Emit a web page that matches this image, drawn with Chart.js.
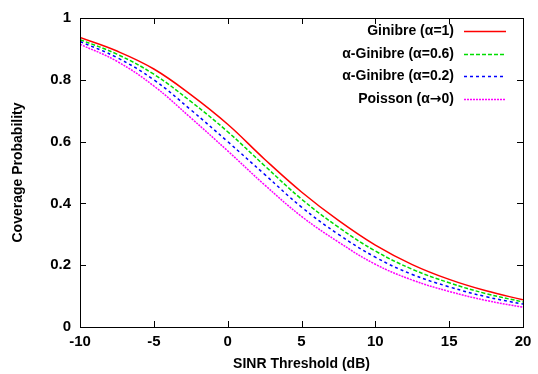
<!DOCTYPE html>
<html>
<head>
<meta charset="utf-8">
<script src="https://cdn.jsdelivr.net/npm/chart.js@4/dist/chart.umd.min.js"></script>
<style>
  html, body { margin: 0; padding: 0; background: #fff; }
  #wrap { width: 538px; height: 374px; }
</style>
</head>
<body>
<div id="wrap"><canvas id="coverageChart"></canvas></div>
<script>
const sinrDb = [-10, -7.5, -5, -2.5, 0, 2.5, 5, 7.5, 10, 12.5, 15, 17.5, 20];
const ginibre = [0.937, 0.893, 0.835, 0.752, 0.656, 0.543, 0.437, 0.345, 0.265, 0.202, 0.154, 0.117, 0.088];
const alpha06 = [0.930, 0.883, 0.818, 0.730, 0.632, 0.522, 0.414, 0.323, 0.246, 0.187, 0.143, 0.108, 0.081];
const alpha02 = [0.924, 0.872, 0.800, 0.703, 0.600, 0.494, 0.388, 0.300, 0.226, 0.170, 0.130, 0.098, 0.074];
const poisson = [0.915, 0.860, 0.780, 0.677, 0.570, 0.460, 0.358, 0.275, 0.203, 0.152, 0.115, 0.086, 0.064];

const seriesNames = ['Ginibre (\u03B1=1)', '\u03B1-Ginibre (\u03B1=0.6)', '\u03B1-Ginibre (\u03B1=0.2)', 'Poisson (\u03B1\u21920)'];
const seriesColors = ['#ff0000', '#00dd00', '#0000ff', '#ff00ff'];
const seriesDash = [[], [4, 2], [3, 3], [2, 1]];
const xTicks = [-10, -5, 0, 5, 10, 15, 20];
const yTicks = [0, 0.2, 0.4, 0.6, 0.8, 1];

const font = 'Liberation Sans, Arial, sans-serif';
const allSeries = [ginibre, alpha06, alpha02, poisson];

const datasets = allSeries.map((vals, i) => ({
  label: seriesNames[i],
  data: sinrDb.map((x, j) => ({ x: x, y: vals[j] })),
  borderColor: seriesColors[i],
  borderDash: seriesDash[i],
  borderWidth: 1.5,
  pointRadius: 0,
  showLine: true,
  fill: false,
  tension: 0.4,
}));

// draws a legend label right-aligned, with the arrow glyph taken from DejaVu
function drawLabel(ctx, text, right, y) {
  const parts = text.split(/(\u2192)/).filter((p) => p.length);
  const fonts = parts.map((p) => (p === '\u2192' ? 'bold 14px DejaVu Sans' : 'bold 14px ' + font));
  const widths = parts.map((p, k) => { ctx.font = fonts[k]; return ctx.measureText(p).width; });
  let x = right - widths.reduce((a, b) => a + b, 0);
  ctx.textAlign = 'left';
  parts.forEach((p, k) => {
    ctx.font = fonts[k];
    ctx.fillText(p, x, y);
    x += widths[k];
  });
}

// gnuplot style frame with inward ticks + legend inside the plot
const framePlugin = {
  id: 'frame',
  afterDatasetsDraw(chart) {
    const { ctx, chartArea: a, scales } = chart;
    ctx.save();
    ctx.strokeStyle = '#000';
    ctx.lineWidth = 1;
    ctx.strokeRect(a.left + 0.5, a.top + 0.5, a.right - a.left, a.bottom - a.top);
    ctx.beginPath();
    xTicks.forEach((v) => {
      const px = Math.round(scales.x.getPixelForValue(v)) + 0.5;
      ctx.moveTo(px, a.bottom); ctx.lineTo(px, a.bottom - 6);
      ctx.moveTo(px, a.top); ctx.lineTo(px, a.top + 6);
    });
    yTicks.forEach((v) => {
      const py = Math.round(scales.y.getPixelForValue(v)) + 0.5;
      ctx.moveTo(a.left, py); ctx.lineTo(a.left + 6, py);
      ctx.moveTo(a.right, py); ctx.lineTo(a.right - 6, py);
    });
    ctx.stroke();

    // legend
    ctx.textBaseline = 'middle';
    chart.data.datasets.forEach((ds, i) => {
      const y = 31 + i * 22.7;
      ctx.fillStyle = '#000';
      drawLabel(ctx, ds.label, 454, y);
      ctx.strokeStyle = ds.borderColor;
      ctx.lineWidth = 1.5;
      ctx.setLineDash(ds.borderDash);
      ctx.beginPath();
      ctx.moveTo(464, Math.round(y) + 0.5);
      ctx.lineTo(506, Math.round(y) + 0.5);
      ctx.stroke();
      ctx.setLineDash([]);
    });
    ctx.restore();
  },
};

const ctx = document.getElementById('coverageChart').getContext('2d');
new Chart(ctx, {
  type: 'scatter',
  data: { datasets: datasets },
  options: {
    responsive: true,
    maintainAspectRatio: false,
    animation: false,
    layout: { padding: { top: 15, right: 15, left: 0, bottom: 0 } },
    plugins: {
      legend: { display: false },
      tooltip: { enabled: false },
    },
    scales: {
      x: {
        type: 'linear',
        min: -10,
        max: 20,
        afterFit: (scale) => { scale.height = 47; },
        afterBuildTicks: (scale) => { scale.ticks = xTicks.map((v) => ({ value: v })); },
        grid: { display: false, drawTicks: false },
        border: { display: false },
        ticks: {
          color: '#000', padding: 6, maxRotation: 0,
          font: { family: font, size: 15, weight: 'bold' },
          callback: (v) => String(v),
        },
        title: {
          display: true,
          text: 'SINR Threshold (dB)',
          color: '#000',
          padding: { top: 0, bottom: 1 },
          font: { family: font, size: 14, weight: 'bold' },
        },
      },
      y: {
        min: 0,
        max: 1,
        afterFit: (scale) => { scale.width = 80; },
        afterBuildTicks: (scale) => { scale.ticks = yTicks.map((v) => ({ value: v })); },
        grid: { display: false, drawTicks: false },
        border: { display: false },
        ticks: {
          color: '#000', padding: 9,
          font: { family: font, size: 15, weight: 'bold' },
          callback: (v) => String(+v.toFixed(1)),
        },
        title: {
          display: true,
          text: 'Coverage Probability',
          color: '#000',
          padding: { top: 10, bottom: 0 },
          font: { family: font, size: 14, weight: 'bold' },
        },
      },
    },
  },
  plugins: [framePlugin],
});
</script>
</body>
</html>
